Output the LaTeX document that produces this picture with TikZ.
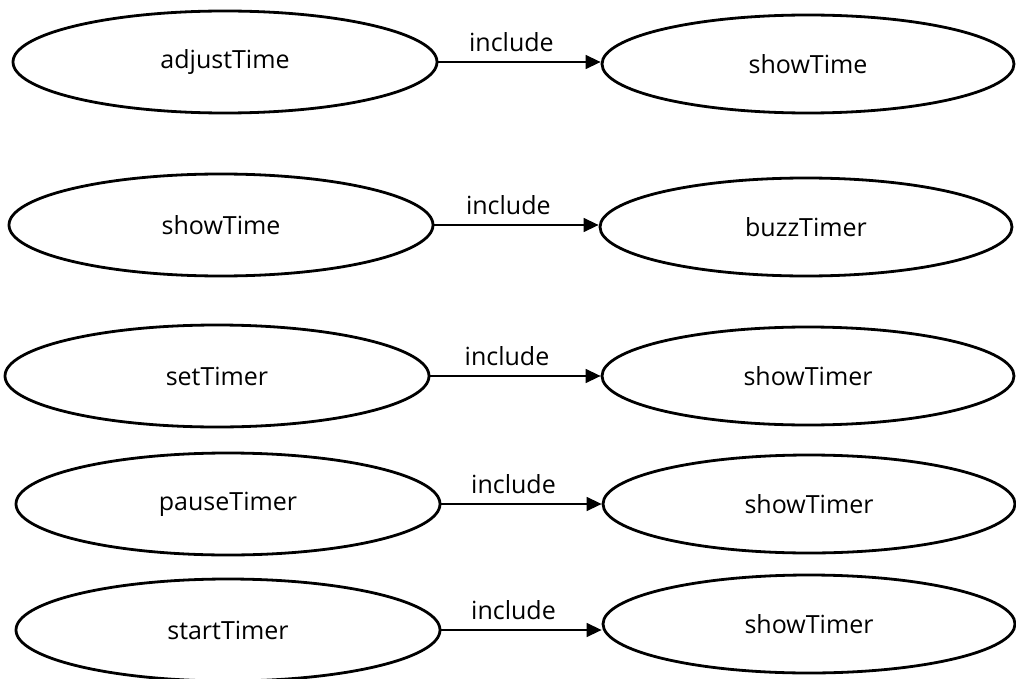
\documentclass[tikz,border=0pt]{standalone}
\usepackage{fontspec}
\setmainfont{Open Sans}
\usetikzlibrary{shapes.geometric,arrows.meta}

\begin{document}
\begin{tikzpicture}[x=1pt,y=-1pt,
    usecase/.style={draw,ellipse,line width=2.8pt,inner sep=0pt,
        minimum width=424pt,minimum height=102pt,
        font=\fontsize{25}{30}\selectfont},
    target/.style={usecase,minimum width=412pt,minimum height=98pt},
    incl/.style={line width=1.4pt,-{Triangle[length=15pt,width=14pt]},
        font=\fontsize{25}{30}\selectfont}]
    \useasboundingbox (0,0) rectangle (1016,679);

    \node[usecase] (adjTime) at (225,62) {adjustTime};
    \node[target] (showTimeA) at (808,64) {showTime};
    \node[usecase] (showTime) at (221,225) {showTime};
    \node[target] (buzzTimer) at (806,227) {buzzTimer};
    \node[usecase] (setTimer) at (217,376) {setTimer};
    \node[target] (showTimerA) at (808,376) {showTimer};
    \node[usecase] (pauseTimer) at (228,504) {pauseTimer};
    \node[target] (showTimerB) at (809,504) {showTimer};
    \node[usecase] (startTimer) at (228,630) {startTimer};
    \node[target] (showTimerC) at (809,624) {showTimer};

    \path[incl] (adjTime.east) edge node[above=6pt,pos=0.45] {include} (adjTime.east -| showTimeA.west);
    \path[incl] (showTime.east) edge node[above=6pt,pos=0.45] {include} (showTime.east -| buzzTimer.west);
    \path[incl] (setTimer.east) edge node[above=6pt,pos=0.45] {include} (setTimer.east -| showTimerA.west);
    \path[incl] (pauseTimer.east) edge node[above=6pt,pos=0.45] {include} (pauseTimer.east -| showTimerB.west);
    \path[incl] (startTimer.east) edge node[above=6pt,pos=0.45] {include} (startTimer.east -| showTimerC.west);
\end{tikzpicture}
\end{document}
